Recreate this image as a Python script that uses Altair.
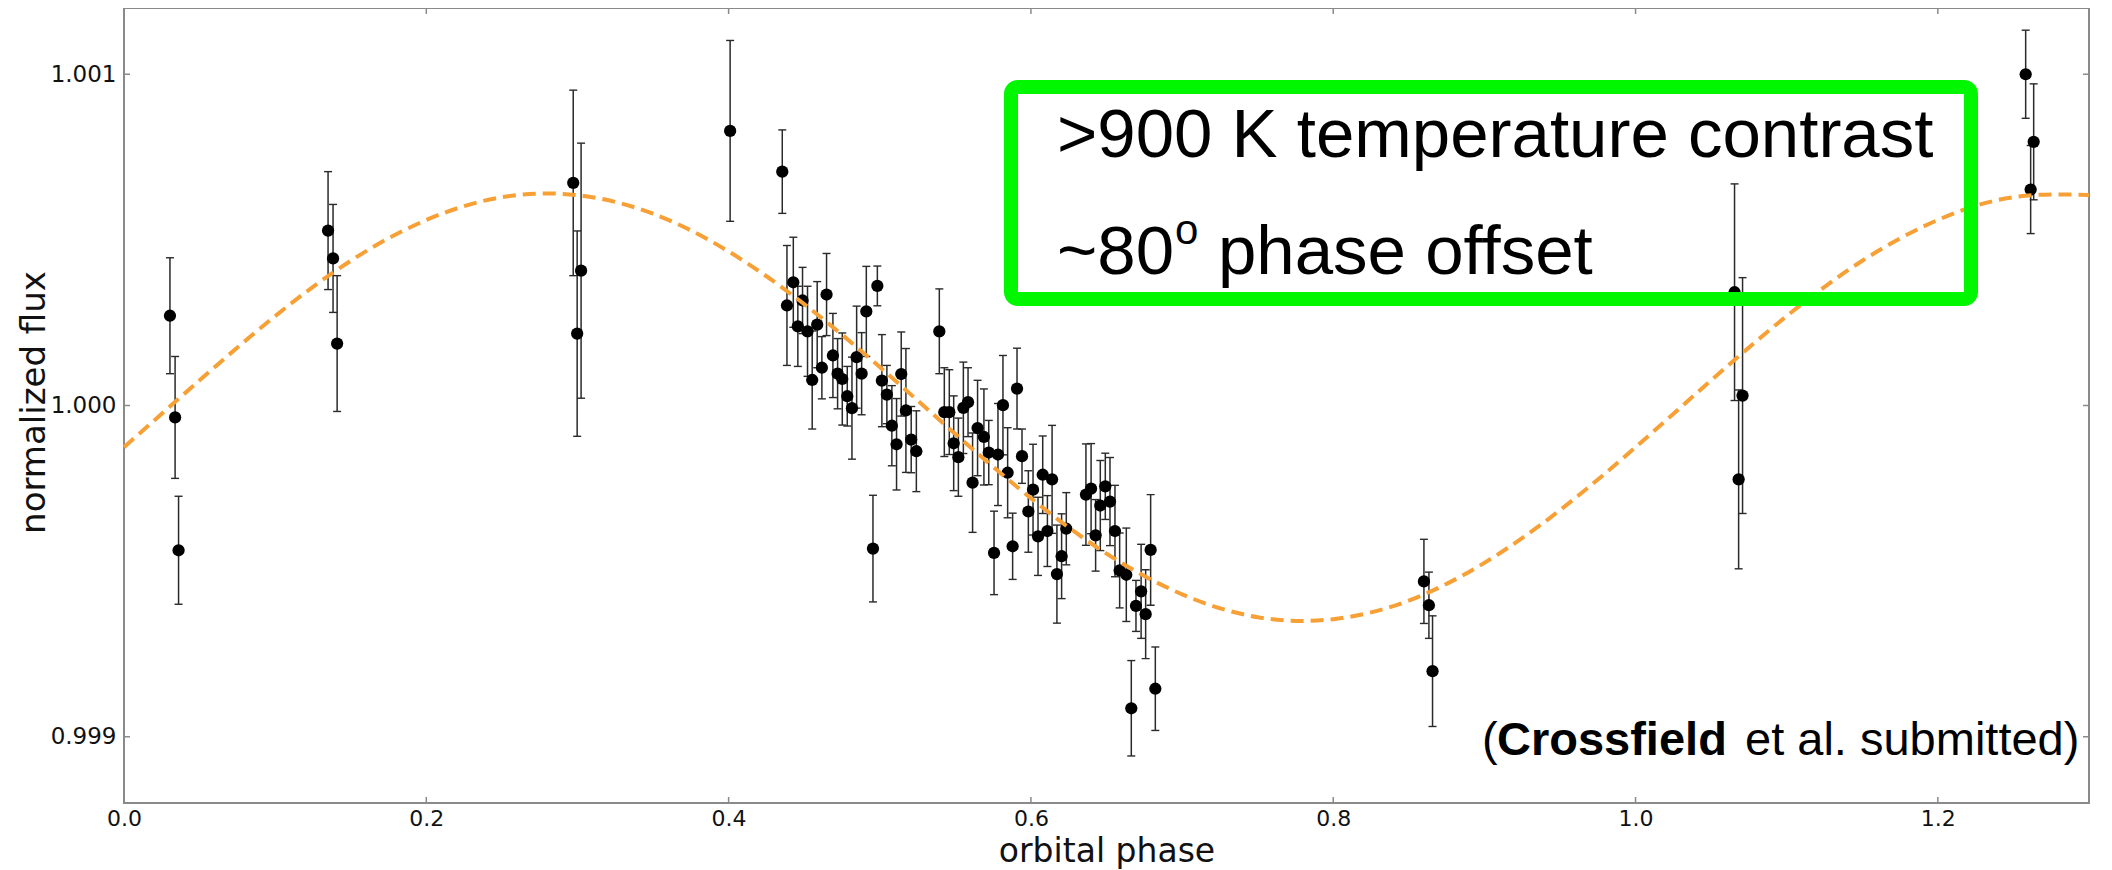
import altair as alt
import pandas as pd

# ---- data ----
phase = [0.0304, 0.0338, 0.0361, 0.1350, 0.1383, 0.1410, 0.2972, 0.2998, 0.3024,
         0.4010, 0.4355,
         0.4386, 0.4428, 0.4458, 0.4489, 0.4522, 0.4553, 0.4586, 0.4617, 0.4648, 0.4690,
         0.4721, 0.4752, 0.4785, 0.4816, 0.4847, 0.4880, 0.4911, 0.4955, 0.4984, 0.5014,
         0.5047, 0.5080, 0.5111, 0.5142, 0.5173, 0.5208, 0.5242, 0.5394, 0.5427, 0.5460,
         0.5489, 0.5520, 0.5553, 0.5584, 0.5614, 0.5647, 0.5689, 0.5721, 0.5756, 0.5782,
         0.5815, 0.5846, 0.5879, 0.5908, 0.5941, 0.5983, 0.6014, 0.6047, 0.6078, 0.6109,
         0.6140, 0.6172, 0.6203, 0.6234, 0.6364, 0.6398, 0.6428, 0.6459, 0.6492, 0.6523,
         0.6556, 0.6587, 0.6631, 0.6664, 0.6695, 0.6729, 0.6759, 0.6792, 0.6823,
         0.8600, 0.8633, 0.8657, 1.0655, 1.0682, 1.0708, 1.2581, 1.2614, 1.2634]
flux = [1.000271, 0.999964, 0.999563, 1.000528, 1.000444, 1.000187, 1.000672, 1.000217, 1.000407,
        1.000829, 1.000706,
        1.000302, 1.000372, 1.000239, 1.000317, 1.000224, 1.000077, 1.000244, 1.000114, 1.000335, 1.000151,
        1.000096, 1.000080, 1.000028, 0.999992, 1.000146, 1.000096, 1.000284, 0.999568, 1.000361, 1.000075,
        1.000033, 0.999939, 0.999883, 1.000095, 0.999985, 0.999897, 0.999862, 1.000224, 0.999980, 0.999980,
        0.999886, 0.999844, 0.999993, 1.000010, 0.999767, 0.999932, 0.999905, 0.999858, 0.999555, 0.999852,
        1.000001, 0.999797, 0.999575, 1.000051, 0.999847, 0.999680, 0.999746, 0.999605, 0.999791, 0.999621,
        0.999777, 0.999491, 0.999545, 0.999628, 0.999731, 0.999749, 0.999608, 0.999698, 0.999756, 0.999710,
        0.999621, 0.999502, 0.999489, 0.999086, 0.999395, 0.999439, 0.999370, 0.999564, 0.999145,
        0.999469, 0.999397, 0.999198, 1.000342, 0.999777, 1.000030, 1.001000, 1.000652, 1.000796]
flux_err = [0.000175, 0.000184, 0.000163, 0.000178, 0.000163, 0.000205, 0.000280, 0.000310, 0.000385,
            0.000273, 0.000126,
            0.000181, 0.000136, 0.000121, 0.000100, 0.000136, 0.000148, 0.000130, 0.000094, 0.000124, 0.000127,
            0.000106, 0.000139, 0.000090, 0.000154, 0.000154, 0.000124, 0.000136, 0.000161, 0.000060, 0.000139,
            0.000088, 0.000121, 0.000138, 0.000127, 0.000187, 0.000100, 0.000122, 0.000128, 0.000134, 0.000128,
            0.000143, 0.000118, 0.000138, 0.000104, 0.000150, 0.000144, 0.000145, 0.000097, 0.000126, 0.000154,
            0.000150, 0.000136, 0.000100, 0.000122, 0.000082, 0.000123, 0.000137, 0.000118, 0.000117, 0.000107,
            0.000163, 0.000148, 0.000128, 0.000109, 0.000153, 0.000136, 0.000108, 0.000136, 0.000100, 0.000133,
            0.000138, 0.000113, 0.000141, 0.000144, 0.000077, 0.000142, 0.000134, 0.000167, 0.000126,
            0.000127, 0.000100, 0.000167, 0.000327, 0.000270, 0.000356, 0.000133, 0.000133, 0.000175]

# dashed model curve
curve_phase = [0.00, 0.05, 0.10, 0.15, 0.20, 0.25, 0.30, 0.35, 0.40, 0.45, 0.50, 0.55, 0.60, 0.65,
               0.70, 0.75, 0.80, 0.85, 0.90, 0.95, 1.00, 1.05, 1.10, 1.15, 1.20, 1.25, 1.30]
curve_flux = [0.999874, 1.000076, 1.000270, 1.000437, 1.000560, 1.000629, 1.000635, 1.000579,
              1.000465, 1.000306, 1.000116, 0.999914, 0.999720, 0.999553, 0.999430, 0.999361,
              0.999355, 0.999411, 0.999525, 0.999684, 0.999874, 1.000076, 1.000270, 1.000437,
              1.000560, 1.000629, 1.000635]

x_ticks = [0.0, 0.2, 0.4, 0.6, 0.8, 1.0, 1.2]
y_ticks = [0.999, 1.000, 1.001]

# ---- chart ----
W, H = 1965, 795
FRAME = "#8a8a8a"

df = pd.DataFrame({"phase": phase, "flux": flux, "err": flux_err})
df["lo"] = df["flux"] - df["err"]
df["hi"] = df["flux"] + df["err"]
curve_df = pd.DataFrame({"phase": curve_phase, "flux": curve_flux})
xt_df = pd.DataFrame({"phase": x_ticks})
yt_df = pd.DataFrame({"flux": y_ticks})
one = pd.DataFrame({"k": [0]})

xs = alt.Scale(domain=[0, 1.3], nice=False, zero=False)
ys = alt.Scale(domain=[0.9988, 1.0012], nice=False, zero=False)

x_axis = alt.Axis(values=x_ticks, format=".1f", title="orbital phase", grid=False,
                  ticks=False, tickSize=0, domain=False,
                  labelFont="DejaVu Sans", labelFontSize=22, labelColor="#111",
                  labelPadding=5, labelFlush=False,
                  titleFont="DejaVu Sans", titleFontSize=33, titleFontWeight="normal",
                  titleColor="#111", titleY=58, titleBaseline="alphabetic")
y_axis = alt.Axis(values=y_ticks, format=".3f", title="normalized flux", grid=False,
                  ticks=False, tickSize=0, domain=False,
                  labelFont="DejaVu Sans", labelFontSize=23, labelColor="#111",
                  labelPadding=8, labelFlush=False,
                  titleFont="DejaVu Sans", titleFontSize=34, titleFontWeight="normal",
                  titleColor="#111", titleX=-90, titleY=394, titleAlign="center",
                  titleBaseline="middle", titleAngle=270)

X = lambda f: alt.X(f, type="quantitative", scale=xs, axis=x_axis)
Y = lambda f: alt.Y(f, type="quantitative", scale=ys, axis=y_axis)

bars = alt.Chart(df).mark_rule(color="#2a2a2a", strokeWidth=1.5).encode(
    x=X("phase"), y=Y("lo"), y2="hi")
cap_lo = alt.Chart(df).mark_tick(orient="horizontal", size=8, thickness=1.4,
                                 color="#2a2a2a", opacity=1).encode(x=X("phase"), y=Y("lo"))
cap_hi = alt.Chart(df).mark_tick(orient="horizontal", size=8, thickness=1.4,
                                 color="#2a2a2a", opacity=1).encode(x=X("phase"), y=Y("hi"))
pts = alt.Chart(df).mark_circle(size=150, color="black", opacity=1).encode(
    x=X("phase"), y=Y("flux"))
curve = alt.Chart(curve_df).mark_line(color="#f7a036", strokeWidth=4,
                                      strokeDash=[13, 7], interpolate="natural").encode(
    x=X("phase"), y=Y("flux"))

tick_b = alt.Chart(xt_df).mark_rule(color=FRAME, strokeWidth=1.5).encode(
    x=X("phase"), y=alt.value(H), y2=alt.value(H - 6))
tick_t = alt.Chart(xt_df).mark_rule(color=FRAME, strokeWidth=1.5).encode(
    x=X("phase"), y=alt.value(0), y2=alt.value(6))
tick_l = alt.Chart(yt_df).mark_rule(color=FRAME, strokeWidth=1.5).encode(
    y=Y("flux"), x=alt.value(0), x2=alt.value(6))
tick_r = alt.Chart(yt_df).mark_rule(color=FRAME, strokeWidth=1.5).encode(
    y=Y("flux"), x=alt.value(W - 6), x2=alt.value(W))

box = alt.Chart(one).mark_rect(fill="white", fillOpacity=0, stroke="#00f700",
                               strokeWidth=14, cornerRadius=7).encode(
    x=alt.value(887), x2=alt.value(1847), y=alt.value(79), y2=alt.value(291))

def label(txt, x, y, size, weight="normal"):
    return alt.Chart(one).mark_text(text=txt, align="left", baseline="alphabetic",
                                    font="Liberation Sans", fontSize=size,
                                    fontWeight=weight, color="black").encode(
        x=alt.value(x), y=alt.value(y))

t1 = label(">900 K temperature contrast", 933, 149, 69)
t2 = label("~80", 933, 266, 69)
t3 = label("o", 1051, 236, 42)
t4 = label("phase offset", 1094, 266, 69)
c1 = label("(", 1358, 747, 47)
c2 = label("Crossfield", 1373, 747, 47, "bold")
c3 = label("et al. submitted)", 1621, 747, 47)

chart = alt.layer(
    bars, cap_lo, cap_hi, pts, curve, tick_b, tick_t, tick_l, tick_r,
    box, t1, t2, t3, t4, c1, c2, c3
).properties(
    width=W, height=H,
    autosize=alt.AutoSizeParams(type="none"),
    padding={"left": 116, "top": 0, "right": 15, "bottom": 66},
    background="white",
).configure_view(stroke=FRAME, strokeWidth=2)

chart.save("out.html", embed_options={"renderer": "svg", "actions": False})
